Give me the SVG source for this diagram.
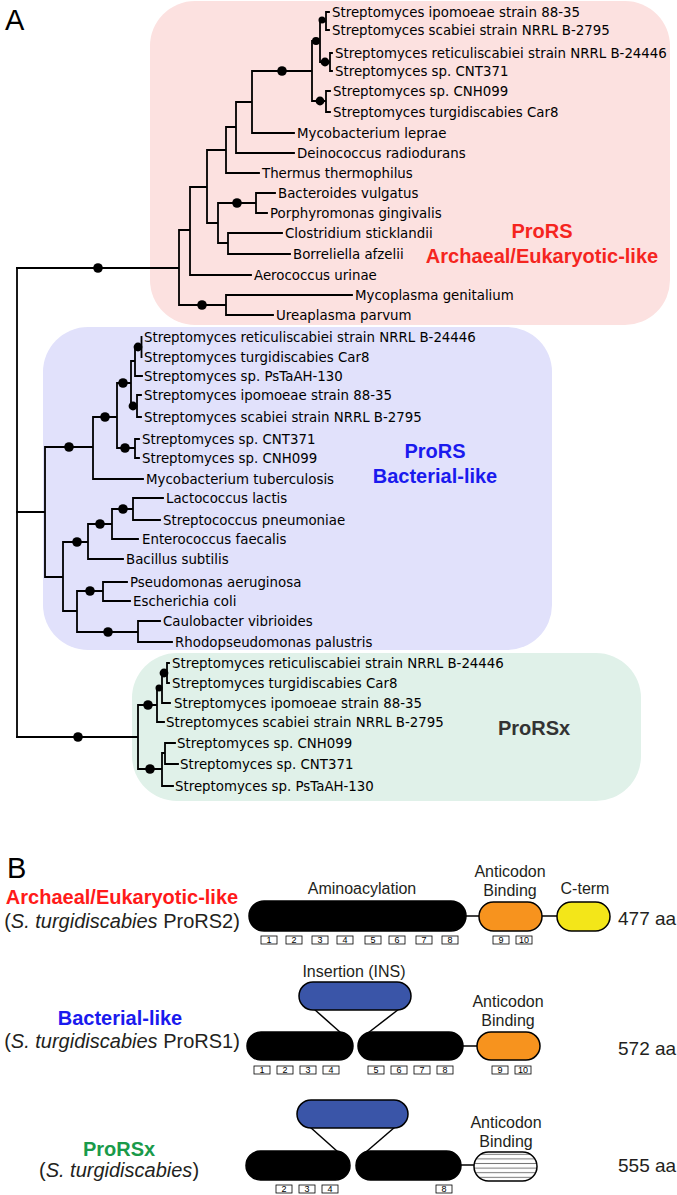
<svg xmlns="http://www.w3.org/2000/svg" width="677" height="1195" viewBox="0 0 677 1195">
<defs>
<style>
.leaf{font-family:"DejaVu Sans",Verdana,sans-serif;font-size:13.35px;fill:#000}
.br{fill:none;stroke:#000;stroke-width:1.8;stroke-linecap:square}
.dot{fill:#000}
.clade{font-family:"Liberation Sans",Arial,sans-serif;font-size:20px;font-weight:bold;text-anchor:middle}
.lbl{font-family:"Liberation Sans",Arial,sans-serif;font-size:16px;fill:#231f20;text-anchor:middle}
.big{font-family:"Liberation Sans",Arial,sans-serif;font-size:20px;fill:#231f20;text-anchor:middle}
.aa{font-family:"Liberation Sans",Arial,sans-serif;font-size:19px;fill:#231f20}
.panel{font-family:"Liberation Sans",Arial,sans-serif;font-size:29px;fill:#000}
.dom{stroke:#000;stroke-width:1.5}
.link{stroke:#000;stroke-width:1.5;fill:none}
.mot{fill:#fff;stroke:#000;stroke-width:0.8}
.motn{font-family:"Liberation Sans",Arial,sans-serif;font-size:9px;fill:#000;text-anchor:middle}
</style>
<pattern id="stripes" patternUnits="userSpaceOnUse" x="0" y="1152" width="10" height="4.6">
<rect width="10" height="4.6" fill="#fff"/>
<line x1="0" y1="2.3" x2="10" y2="2.3" stroke="#777" stroke-width="1"/>
</pattern>
</defs>
<rect width="677" height="1195" fill="#fff"/>

<text class="panel" x="5" y="30">A</text>

<g id="bg-archaeal"><rect x="150" y="1" width="520" height="324" rx="45" fill="#fce1e0"/></g>
<g id="bg-bacterial"><rect x="43" y="327" width="509" height="323" rx="45" fill="#e1e1fb"/></g>
<g id="bg-prorsx"><rect x="132" y="653" width="509" height="148" rx="45" fill="#e0f1e9"/></g>

<g id="connectors">
<path class="br" d="M17 268V737"/>
<path class="br" d="M17 268H179 M179 230V305 M179 230H190 M190 187V275 M190 275H251 M190 187H207 M207 150V223 M207 150H226 M226 127V173 M226 173H259 M226 127H236 M236 102V153 M236 153H294 M236 102H252 M252 71V133 M252 133H294 M252 71H312 M312 41V101 M312 41H320 M320 21V62 M320 21H326 M326 12V30 M326 12H329 M326 30H329 M320 62H330 M330 53V71 M330 53H332 M330 71H332 M312 101H326 M326 91V112 M326 91H330 M326 112H330 M207 223H218 M218 203V243 M218 203H256 M256 193V213 M256 193H275 M256 213H267 M218 243H228 M228 233V254 M228 233H282 M228 254H290 M179 305H226 M226 295V315 M226 295H352 M226 315H273"/>
<path class="br" d="M17 512H45 M45 447V577 M45 447H93 M93 417V479 M93 479H143 M93 417H117 M117 383V448 M117 383H131 M131 361V406 M131 361H135 M135 347V376 M135 376H142 M135 347H141.5 M141.5 337V357 M131 406H137 M137 395V417 M137 395H141 M137 417H141 M117 448H135 M135 439V458 M135 439H139 M135 458H139 M45 577H63 M63 542V611 M63 542H88 M88 524V559 M88 559H123 M88 524H112 M112 509V539 M112 539H138 M112 509H133 M133 498V520 M133 498H163 M133 520H160 M63 611H77 M77 591V632 M77 591H103 M103 582V601 M103 582H127 M103 601H130 M77 632H138 M138 621V642 M138 621H160 M138 642H172"/>
<path class="br" d="M17 737H138 M138 705V769 M138 705H157 M157 688V722 M157 722H164 M157 688H162 M162 673V703 M162 703H170 M162 673H167 M167 663V683 M167 663H169 M167 683H169 M138 769H162 M162 753V786 M162 786H173 M162 753H165 M165 743V764 M165 743H175 M165 764H178"/>
<g class="dot">
<circle cx="98" cy="268" r="4.8"/><circle cx="282" cy="71" r="4.8"/><circle cx="316" cy="41" r="4"/><circle cx="322" cy="20" r="3.5"/><circle cx="325" cy="62" r="4.4"/><circle cx="320" cy="101" r="4.4"/><circle cx="237" cy="203" r="4.8"/><circle cx="202" cy="305" r="4.8"/>
<circle cx="69" cy="447" r="4.8"/><circle cx="105" cy="417" r="4.8"/><circle cx="123" cy="383" r="4.8"/><circle cx="138" cy="347" r="4.4"/><circle cx="133" cy="406" r="4.4"/><circle cx="125" cy="448" r="4.8"/><circle cx="77" cy="542" r="4.8"/><circle cx="100" cy="524" r="4.8"/><circle cx="123" cy="509" r="4.8"/><circle cx="90" cy="591" r="4.8"/><circle cx="108" cy="632" r="4.8"/>
<circle cx="78" cy="737" r="4.8"/><circle cx="148" cy="705" r="4.8"/><circle cx="159" cy="688" r="3.5"/><circle cx="164" cy="673" r="4.4"/><circle cx="150" cy="769" r="4.8"/>
</g>
</g>

<g id="leaves-archaeal">
<text class="leaf" x="332" y="16.5">Streptomyces ipomoeae strain 88-35</text>
<text class="leaf" x="332" y="34.5">Streptomyces scabiei strain NRRL B-2795</text>
<text class="leaf" x="335" y="57.5">Streptomyces reticuliscabiei strain NRRL B-24446</text>
<text class="leaf" x="335" y="75.5">Streptomyces sp. CNT371</text>
<text class="leaf" x="333" y="95.5">Streptomyces sp. CNH099</text>
<text class="leaf" x="333" y="116.5">Streptomyces turgidiscabies Car8</text>
<text class="leaf" x="297" y="137.5">Mycobacterium leprae</text>
<text class="leaf" x="297" y="157.5">Deinococcus radiodurans</text>
<text class="leaf" x="262" y="177.5">Thermus thermophilus</text>
<text class="leaf" x="278" y="197.5">Bacteroides vulgatus</text>
<text class="leaf" x="270" y="217.5">Porphyromonas gingivalis</text>
<text class="leaf" x="285" y="237.5">Clostridium sticklandii</text>
<text class="leaf" x="293" y="258.5">Borreliella afzelii</text>
<text class="leaf" x="254" y="279.5">Aerococcus urinae</text>
<text class="leaf" x="355" y="299.5">Mycoplasma genitalium</text>
<text class="leaf" x="276" y="319.5">Ureaplasma parvum</text>
<text class="clade" x="542" y="238" fill="#f5251f">ProRS</text>
<text class="clade" x="542" y="263" fill="#f5251f">Archaeal/Eukaryotic-like</text>
</g>

<g id="leaves-bacterial">
<text class="leaf" x="144" y="341.5">Streptomyces reticuliscabiei strain NRRL B-24446</text>
<text class="leaf" x="144" y="361.5">Streptomyces turgidiscabies Car8</text>
<text class="leaf" x="144" y="380.5">Streptomyces sp. PsTaAH-130</text>
<text class="leaf" x="144" y="399.5">Streptomyces ipomoeae strain 88-35</text>
<text class="leaf" x="144" y="421.5">Streptomyces scabiei strain NRRL B-2795</text>
<text class="leaf" x="142" y="443.5">Streptomyces sp. CNT371</text>
<text class="leaf" x="142" y="462.5">Streptomyces sp. CNH099</text>
<text class="leaf" x="146" y="483.5">Mycobacterium tuberculosis</text>
<text class="leaf" x="166" y="502.5">Lactococcus lactis</text>
<text class="leaf" x="163" y="524.5">Streptococcus pneumoniae</text>
<text class="leaf" x="142" y="543.5">Enterococcus faecalis</text>
<text class="leaf" x="126" y="563.5">Bacillus subtilis</text>
<text class="leaf" x="130" y="586.5">Pseudomonas aeruginosa</text>
<text class="leaf" x="133" y="605.5">Escherichia coli</text>
<text class="leaf" x="163" y="625.5">Caulobacter vibrioides</text>
<text class="leaf" x="175" y="646.5">Rhodopseudomonas palustris</text>
<text class="clade" x="435" y="458" fill="#1a1aee">ProRS</text>
<text class="clade" x="435" y="483" fill="#1a1aee">Bacterial-like</text>
</g>

<g id="leaves-prorsx">
<text class="leaf" x="172" y="667.5">Streptomyces reticuliscabiei strain NRRL B-24446</text>
<text class="leaf" x="172" y="687.5">Streptomyces turgidiscabies Car8</text>
<text class="leaf" x="174" y="707.5">Streptomyces ipomoeae strain 88-35</text>
<text class="leaf" x="166" y="726.5">Streptomyces scabiei strain NRRL B-2795</text>
<text class="leaf" x="177" y="747.5">Streptomyces sp. CNH099</text>
<text class="leaf" x="180" y="768.5">Streptomyces sp. CNT371</text>
<text class="leaf" x="175" y="790.5">Streptomyces sp. PsTaAH-130</text>
<text class="clade" x="534" y="735" fill="#333">ProRSx</text>
</g>

<text class="panel" x="7" y="878">B</text>

<g id="row-archaeal">
<text class="clade" x="122" y="904" fill="#ff1a1a">Archaeal/Eukaryotic-like</text>
<text class="big" x="122" y="928">(<tspan font-style="italic">S. turgidiscabies</tspan> ProRS2)</text>
<text class="lbl" x="362" y="894">Aminoacylation</text>
<text class="lbl" x="510" y="877">Anticodon</text>
<text class="lbl" x="510" y="896">Binding</text>
<text class="lbl" x="585" y="894">C-term</text>
<line class="link" x1="466" y1="916" x2="479" y2="916"/>
<line class="link" x1="542" y1="916" x2="557" y2="916"/>
<rect class="dom" x="249" y="901" width="217" height="30" rx="15" fill="#000"/>
<rect class="dom" x="479" y="902" width="63" height="29" rx="14.5" fill="#f7931e"/>
<rect class="dom" x="557" y="902" width="53" height="29" rx="14.5" fill="#f3e619"/>
<text class="aa" x="618" y="925">477 aa</text>
<g>
<rect class="mot" x="261" y="936" width="16" height="8"/><text class="motn" x="269" y="943.3">1</text>
<rect class="mot" x="286" y="936" width="16" height="8"/><text class="motn" x="294" y="943.3">2</text>
<rect class="mot" x="312" y="936" width="16" height="8"/><text class="motn" x="320" y="943.3">3</text>
<rect class="mot" x="337" y="936" width="16" height="8"/><text class="motn" x="345" y="943.3">4</text>
<rect class="mot" x="365" y="936" width="16" height="8"/><text class="motn" x="373" y="943.3">5</text>
<rect class="mot" x="389" y="936" width="16" height="8"/><text class="motn" x="397" y="943.3">6</text>
<rect class="mot" x="416" y="936" width="16" height="8"/><text class="motn" x="424" y="943.3">7</text>
<rect class="mot" x="442" y="936" width="16" height="8"/><text class="motn" x="450" y="943.3">8</text>
<rect class="mot" x="493" y="936" width="16" height="8"/><text class="motn" x="501" y="943.3">9</text>
<rect class="mot" x="516" y="936" width="16" height="8"/><text class="motn" x="524" y="943.3">10</text>
</g>
</g>

<g id="row-bacterial">
<text class="clade" x="120" y="1025" fill="#1a1aee">Bacterial-like</text>
<text class="big" x="122" y="1048">(<tspan font-style="italic">S. turgidiscabies</tspan> ProRS1)</text>
<text class="lbl" x="354" y="977">Insertion (INS)</text>
<text class="lbl" x="508" y="1007">Anticodon</text>
<text class="lbl" x="508" y="1026">Binding</text>
<line class="link" x1="314" y1="1009" x2="341" y2="1033"/>
<line class="link" x1="399" y1="1009" x2="368" y2="1033"/>
<rect class="dom" x="299" y="982" width="112" height="28" rx="14" fill="#3a55a8"/>
<line class="link" x1="463" y1="1046" x2="477" y2="1046"/>
<rect class="dom" x="247" y="1032" width="106" height="28" rx="14" fill="#000"/>
<rect class="dom" x="358" y="1032" width="105" height="28" rx="14" fill="#000"/>
<rect class="dom" x="477" y="1032" width="63" height="28" rx="14" fill="#f7931e"/>
<text class="aa" x="618" y="1055">572 aa</text>
<g>
<rect class="mot" x="254" y="1066" width="16" height="8"/><text class="motn" x="262" y="1073.3">1</text>
<rect class="mot" x="277" y="1066" width="16" height="8"/><text class="motn" x="285" y="1073.3">2</text>
<rect class="mot" x="300" y="1066" width="16" height="8"/><text class="motn" x="308" y="1073.3">3</text>
<rect class="mot" x="323" y="1066" width="16" height="8"/><text class="motn" x="331" y="1073.3">4</text>
<rect class="mot" x="368" y="1066" width="16" height="8"/><text class="motn" x="376" y="1073.3">5</text>
<rect class="mot" x="391" y="1066" width="16" height="8"/><text class="motn" x="399" y="1073.3">6</text>
<rect class="mot" x="414" y="1066" width="16" height="8"/><text class="motn" x="422" y="1073.3">7</text>
<rect class="mot" x="437" y="1066" width="16" height="8"/><text class="motn" x="445" y="1073.3">8</text>
<rect class="mot" x="492" y="1066" width="16" height="8"/><text class="motn" x="500" y="1073.3">9</text>
<rect class="mot" x="515" y="1066" width="16" height="8"/><text class="motn" x="523" y="1073.3">10</text>
</g>
</g>

<g id="row-prorsx">
<text class="clade" x="119" y="1156" fill="#1a9a4a">ProRSx</text>
<text class="big" x="119" y="1177">(<tspan font-style="italic">S. turgidiscabies</tspan>)</text>
<text class="lbl" x="506" y="1128">Anticodon</text>
<text class="lbl" x="506" y="1147">Binding</text>
<line class="link" x1="310" y1="1127" x2="338" y2="1152"/>
<line class="link" x1="395" y1="1127" x2="366" y2="1152"/>
<rect class="dom" x="297" y="1100" width="111" height="28" rx="14" fill="#3a55a8"/>
<line class="link" x1="461" y1="1165" x2="474" y2="1165"/>
<rect class="dom" x="246" y="1151" width="104" height="29" rx="14.5" fill="#000"/>
<rect class="dom" x="356" y="1151" width="105" height="29" rx="14.5" fill="#000"/>
<rect class="dom" x="474" y="1152" width="63" height="29" rx="14.5" fill="url(#stripes)"/>
<text class="aa" x="618" y="1172">555 aa</text>
<g>
<rect class="mot" x="276" y="1185" width="16" height="8"/><text class="motn" x="284" y="1192.3">2</text>
<rect class="mot" x="299" y="1185" width="16" height="8"/><text class="motn" x="307" y="1192.3">3</text>
<rect class="mot" x="322" y="1185" width="16" height="8"/><text class="motn" x="330" y="1192.3">4</text>
<rect class="mot" x="436" y="1185" width="16" height="8"/><text class="motn" x="444" y="1192.3">8</text>
</g>
</g>
</svg>
